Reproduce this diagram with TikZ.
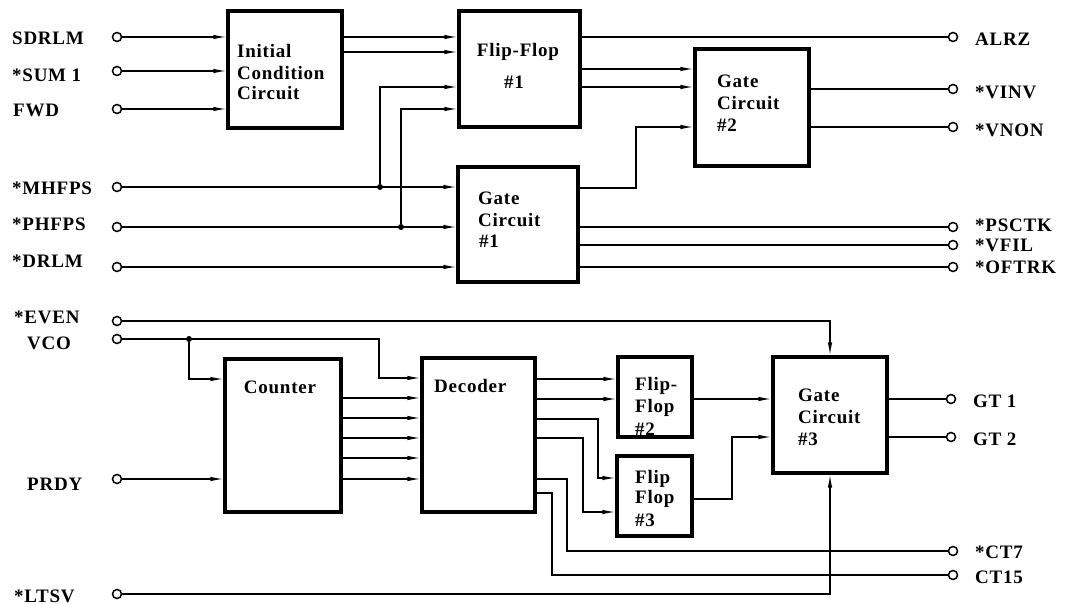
\documentclass[tikz,border=0pt]{standalone}
\usepackage{fontspec}
\setmainfont{Liberation Serif}[LetterSpace=4]
\usetikzlibrary{arrows.meta}
\begin{document}
\begin{tikzpicture}[x=1pt,y=-1pt,
  blk/.style={draw, line width=3.2pt, inner sep=0pt},
  term/.style={draw, circle, line width=1.5pt, minimum size=9pt, inner sep=0pt, fill=white},
  jdot/.style={circle, fill, minimum size=6pt, inner sep=0pt},
  txt/.style={font=\fontsize{19}{22}\selectfont\bfseries, inner sep=0pt},
  wire/.style={line width=1.3pt},
  arr/.style={wire, -{Latex[length=13pt,width=4.5pt]}}]
\useasboundingbox (0,0) rectangle (1072,604);

% ---------- boxes ----------
\node[blk, minimum width=114pt, minimum height=117pt] (ic)  at (285,69.5) {};
\node[blk, minimum width=121pt, minimum height=116pt] (ff1) at (519.5,69) {};
\node[blk, minimum width=120pt, minimum height=115pt] (gc1) at (518,224.5) {};
\node[blk, minimum width=114pt, minimum height=117pt] (gc2) at (752,107.5) {};
\node[blk, minimum width=116pt, minimum height=153pt] (cnt) at (283,435.5) {};
\node[blk, minimum width=113pt, minimum height=154pt] (dec) at (478.5,435) {};
\node[blk, minimum width=74pt, minimum height=80pt] (ff2) at (655,397) {};
\node[blk, minimum width=75pt, minimum height=80pt] (ff3) at (654.5,496) {};
\node[blk, minimum width=114pt, minimum height=116pt] (gc3) at (830,415) {};

% ---------- box texts ----------
\node[txt, anchor=base west] (ic1t) at (237,58) {Initial};
\node[txt, anchor=base west] (ic2t) at (237,80) {Condition};
\node[txt, anchor=base west] (ic3t) at (237,100) {Circuit};
\node[txt, anchor=base] (ff1a) at (518,57) {Flip-Flop};
\node[txt, anchor=base] (ff1b) at (514,89) {\#1};
\node[txt, anchor=base west] (gc1a) at (478,205) {Gate};
\node[txt, anchor=base west] (gc1b) at (478,227) {Circuit};
\node[txt, anchor=base west] (gc1c) at (479,248) {\#1};
\node[txt, anchor=base west] (gc2a) at (717,88) {Gate};
\node[txt, anchor=base west] (gc2b) at (717,110) {Circuit};
\node[txt, anchor=base west] (gc2c) at (717,132) {\#2};
\node[txt, anchor=base] (cntt) at (280,393) {Counter};
\node[txt, anchor=base west] (dect) at (434,392) {Decoder};
\node[txt, anchor=base west] (ff2a) at (635,390) {Flip-};
\node[txt, anchor=base west] (ff2b) at (635,412) {Flop};
\node[txt, anchor=base west] (ff2c) at (635,435) {\#2};
\node[txt, anchor=base west] (ff3a) at (635,483) {Flip};
\node[txt, anchor=base west] (ff3b) at (635,503) {Flop};
\node[txt, anchor=base west] (ff3c) at (635,526) {\#3};
\node[txt, anchor=base west] (gc3a) at (798,402) {Gate};
\node[txt, anchor=base west] (gc3b) at (798,423) {Circuit};
\node[txt, anchor=base west] (gc3c) at (798,445) {\#3};

% ---------- terminals ----------
\node[term] (sdrlm) at (117,37) {};
\node[term] (sum1)  at (117,71) {};
\node[term] (fwd)   at (117,109) {};
\node[term] (mhfps) at (117,187) {};
\node[term] (phfps) at (117,227) {};
\node[term] (drlm)  at (117,267) {};
\node[term] (even)  at (117,321) {};
\node[term] (vco)   at (117,339) {};
\node[term] (prdy)  at (117,479) {};
\node[term] (ltsv)  at (117,594) {};
\node[term] (alrz)  at (953,37) {};
\node[term] (vinv)  at (953,89) {};
\node[term] (vnon)  at (953,127) {};
\node[term] (psctk) at (953,227) {};
\node[term] (vfil)  at (953,245) {};
\node[term] (oftrk) at (953,267) {};
\node[term] (gt1)   at (951,399) {};
\node[term] (gt2)   at (951,437) {};
\node[term] (ct7)   at (953,551) {};
\node[term] (ct15)  at (953,575) {};

% ---------- terminal labels ----------
\node[txt, anchor=base west] (lsdrlm) at (12,45) {SDRLM};
\node[txt, anchor=base west] (lsum1)  at (12,82) {*SUM 1};
\node[txt, anchor=base west] (lfwd)   at (13,117) {FWD};
\node[txt, anchor=base west] (lmhfps) at (12,195) {*MHFPS};
\node[txt, anchor=base west] (lphfps) at (12,231) {*PHFPS};
\node[txt, anchor=base west] (ldrlm)  at (12,268) {*DRLM};
\node[txt, anchor=base west] (leven)  at (14,324) {*EVEN};
\node[txt, anchor=base west] (lvco)   at (27,350) {VCO};
\node[txt, anchor=base west] (lprdy)  at (27,490) {PRDY};
\node[txt, anchor=base west] (lltsv)  at (14,602) {*LTSV};
\node[txt, anchor=base west] (lalrz)  at (975,46) {ALRZ};
\node[txt, anchor=base west] (lvinv)  at (975,99) {*VINV};
\node[txt, anchor=base west] (lvnon)  at (975,137) {*VNON};
\node[txt, anchor=base west] (lpsctk) at (975,232) {*PSCTK};
\node[txt, anchor=base west] (lvfil)  at (975,252) {*VFIL};
\node[txt, anchor=base west] (loftrk) at (975,274) {*OFTRK};
\node[txt, anchor=base west] (lgt1)   at (973,407) {GT 1};
\node[txt, anchor=base west] (lgt2)   at (973,445) {GT 2};
\node[txt, anchor=base west] (lct7)   at (975,558) {*CT7};
\node[txt, anchor=base west] (lct15)  at (975,583) {CT15};

% ---------- junctions and bend points ----------
\node[jdot] (j1) at (380,187) {};
\node[jdot] (j2) at (401,227) {};
\node[jdot] (j3) at (189,339) {};
\coordinate (y52) at (0,52);
\coordinate (y69) at (0,69);
\coordinate (y87) at (0,87);
\coordinate (y109) at (0,109);
\coordinate (y127) at (0,127);
\coordinate (b1) at (636,188);
\coordinate (b2) at (379,378);
\coordinate (y379) at (0,379);
\coordinate (y399) at (0,399);
\coordinate (y419) at (0,419);
\coordinate (y438) at (0,438);
\coordinate (y479) at (0,479);
\coordinate (y493) at (0,493);
\coordinate (y499) at (0,499);
\coordinate (b3) at (598,478);
\coordinate (b4) at (583,512);
\coordinate (b5) at (567,551);
\coordinate (b6) at (552,575);
\coordinate (b7) at (732,437);

% ---------- top connectors ----------
\draw[arr] (sdrlm) -- (sdrlm -| ic.west);
\draw[arr] (sum1) -- (sum1 -| ic.west);
\draw[arr] (fwd) -- (fwd -| ic.west);
\draw[arr] (ic.east |- sdrlm) -- (ff1.west |- sdrlm);
\draw[arr] (ic.east |- y52) -- (ff1.west |- y52);
\draw[arr] (mhfps) -- (mhfps -| gc1.west);
\draw[arr] (phfps) -- (phfps -| gc1.west);
\draw[arr] (drlm) -- (drlm -| gc1.west);
\draw[arr] (j1) |- (ff1.west |- y87);
\draw[arr] (j2) |- (ff1.west |- y109);
\draw[wire] (ff1.east |- alrz) -- (alrz);
\draw[arr] (ff1.east |- y69) -- (gc2.west |- y69);
\draw[arr] (ff1.east |- y87) -- (gc2.west |- y87);
\draw[arr] (gc1.east |- b1) -- (b1) |- (gc2.west |- y127);
\draw[wire] (gc2.east |- vinv) -- (vinv);
\draw[wire] (gc2.east |- vnon) -- (vnon);
\draw[wire] (gc1.east |- psctk) -- (psctk);
\draw[wire] (gc1.east |- vfil) -- (vfil);
\draw[wire] (gc1.east |- oftrk) -- (oftrk);

% ---------- bottom connectors ----------
\draw[arr] (even) -| (gc3.north);
\draw[arr] (ltsv) -| (gc3.south);
\draw[arr] (vco) -| (b2) -- (dec.west |- b2);
\draw[arr] (j3) |- (cnt.west |- y379);
\draw[arr] (prdy) -- (prdy -| cnt.west);
\foreach \yy in {398,418,438,458,479} {
  \coordinate (cy) at (0,\yy);
  \draw[arr] (cnt.east |- cy) -- (dec.west |- cy);
}
\draw[arr] (dec.east |- y379) -- (ff2.west |- y379);
\draw[arr] (dec.east |- y399) -- (ff2.west |- y399);
\draw[arr] (dec.east |- y419) -| (b3) -- (ff3.west |- b3);
\draw[arr] (dec.east |- y438) -| (b4) -- (ff3.west |- b4);
\draw[wire] (dec.east |- y479) -| (b5) -- (ct7);
\draw[wire] (dec.east |- y493) -| (b6) -- (ct15);
\draw[arr] (ff2.east |- y399) -- (gc3.west |- y399);
\draw[arr] (ff3.east |- y499) -| (b7) -- (gc3.west |- b7);
\draw[wire] (gc3.east |- gt1) -- (gt1);
\draw[wire] (gc3.east |- gt2) -- (gt2);
\end{tikzpicture}
\end{document}
